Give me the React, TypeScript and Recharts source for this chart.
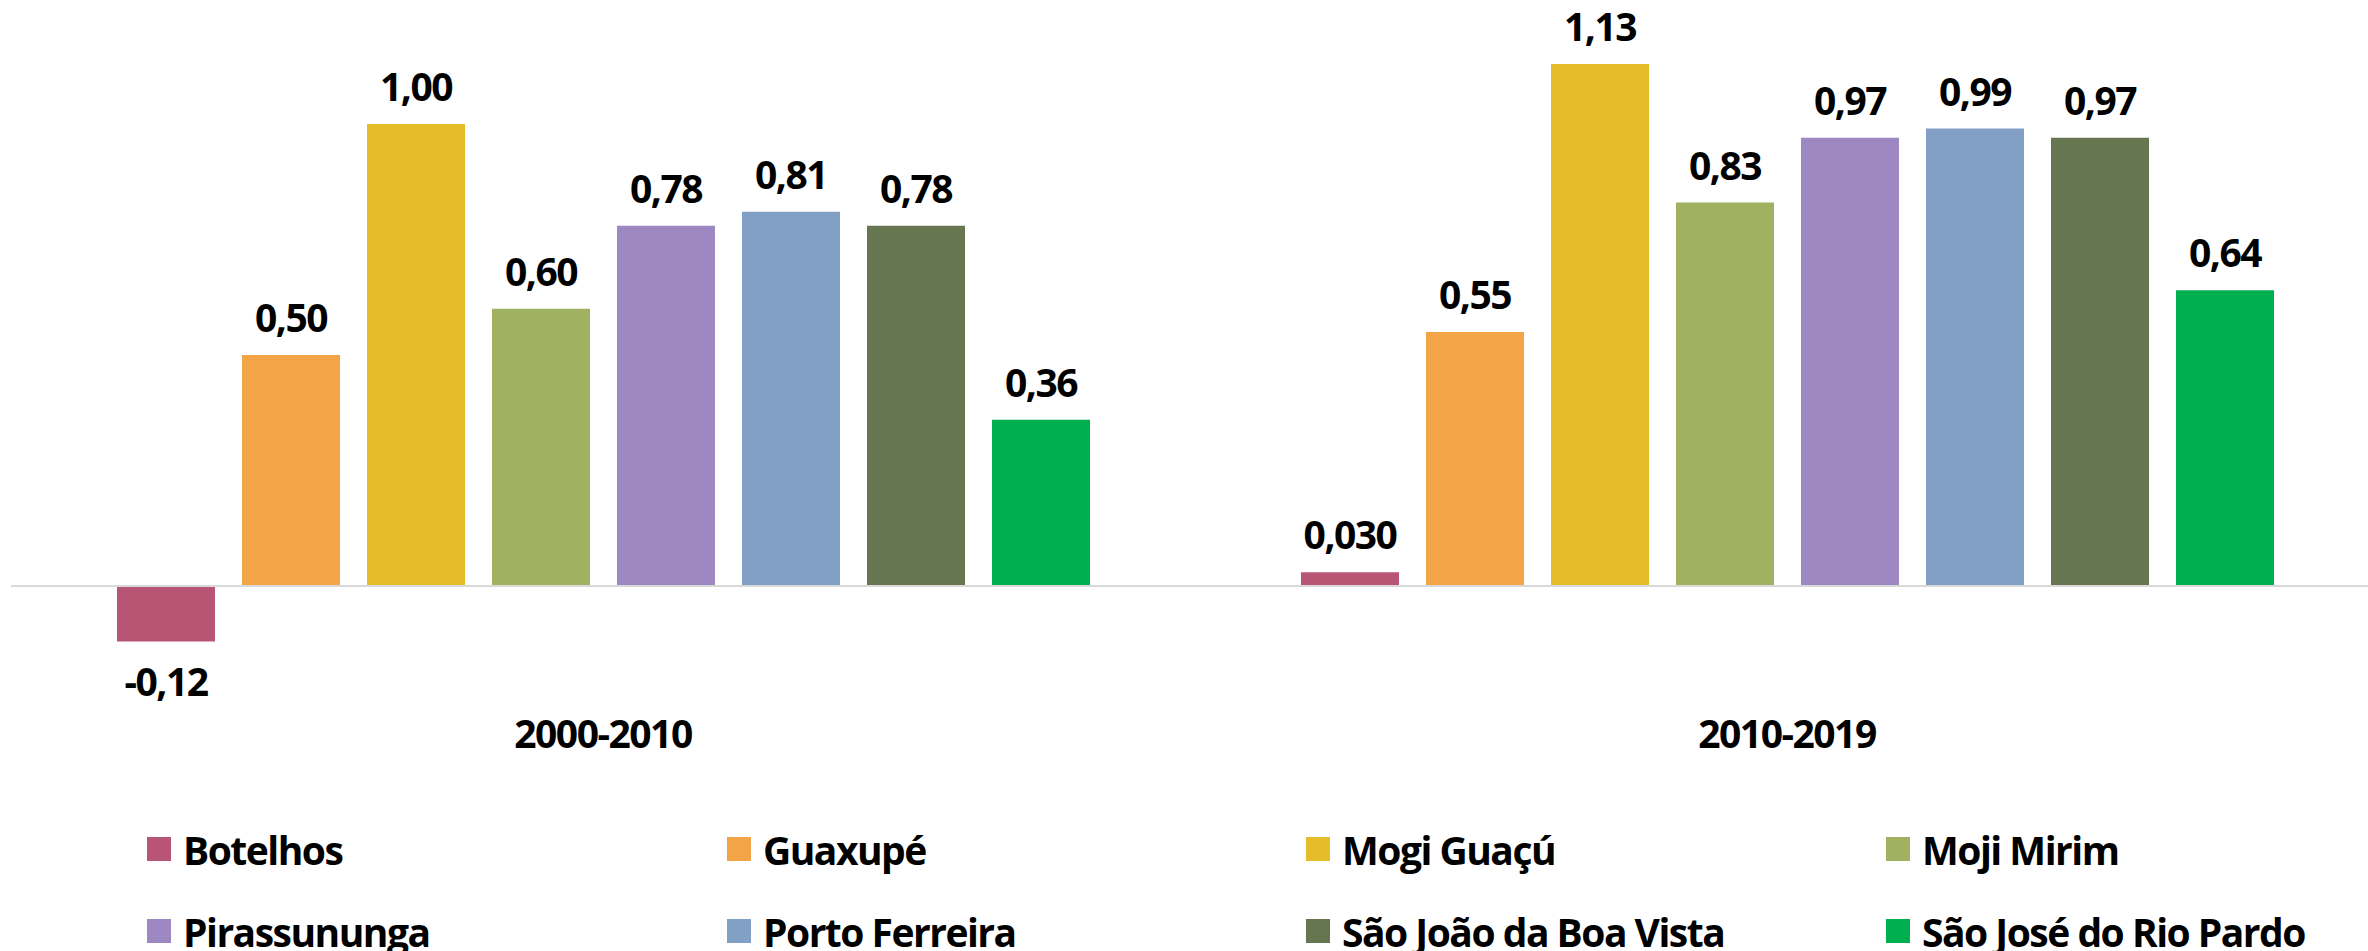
import React from 'react';
import { BarChart, Bar, XAxis, YAxis, ReferenceLine, LabelList } from 'recharts';

const periods = ['2000-2010', '2010-2019'];
const cities = [
  'Botelhos',
  'Guaxupé',
  'Mogi Guaçú',
  'Moji Mirim',
  'Pirassununga',
  'Porto Ferreira',
  'São João da Boa Vista',
  'São José do Rio Pardo',
];
const botelhos = [-0.12, 0.03];
const guaxupe = [0.5, 0.55];
const mogiGuacu = [1.0, 1.13];
const mojiMirim = [0.6, 0.83];
const pirassununga = [0.78, 0.97];
const portoFerreira = [0.81, 0.99];
const saoJoao = [0.78, 0.97];
const saoJose = [0.36, 0.64];
const seriesValues = [botelhos, guaxupe, mogiGuacu, mojiMirim, pirassununga, portoFerreira, saoJoao, saoJose];
const colors = ['#B85575', '#F2A446', '#E5BC2A', '#A0B262', '#9E88C1', '#82A0C5', '#667650', '#00B050'];

const data = periods.map((p, i) => {
  const row: Record<string, any> = { period: p };
  cities.forEach((c, j) => {
    row[c] = seriesValues[j][i];
  });
  return row;
});

const FONT = "'Open Sans', 'Noto Sans', sans-serif";
const FS = 39;
const LS = -1.5;

const fmt = (v: number) => (Math.abs(v) < 0.1 ? v.toFixed(3) : v.toFixed(2)).replace('.', ',');

const ValueLabel = (props: any) => {
  const { x, y, width, height, value } = props;
  const top = Math.min(y, y + height);
  const bottom = Math.max(y, y + height);
  const ty = value >= 0 ? top - 23 : bottom + 55;
  return (
    <text
      x={x + width / 2}
      y={ty}
      textAnchor="middle"
      fontFamily={FONT}
      fontSize={FS}
      fontWeight={700}
      letterSpacing={LS}
      fill="#000"
    >
      {fmt(value)}
    </text>
  );
};

const CatTick = (props: any) => {
  const { x, y, payload } = props;
  return (
    <text
      x={x}
      y={y + 70}
      textAnchor="middle"
      fontFamily={FONT}
      fontSize={FS}
      fontWeight={700}
      letterSpacing={LS}
      fill="#000"
    >
      {payload.value}
    </text>
  );
};

const legendCols = [147, 727, 1306, 1886];
const legendRows = [849, 931];

export default function App() {
  return (
    <div style={{ position: 'absolute', left: 0, top: 0, width: 2368, height: 951, overflow: 'hidden', background: '#fff' }}>
      <BarChart
        width={2380}
        height={951}
        data={data}
        margin={{ top: 31.6, right: 1, left: 11, bottom: 192.6 }}
        barSize={98}
        barGap={27}
      >
        <XAxis
          dataKey="period"
          axisLine={false}
          tickLine={false}
          tickSize={0}
          tickMargin={0}
          height={80}
          tick={<CatTick />}
          interval={0}
        />
        <YAxis hide domain={[-0.2, 1.2]} type="number" allowDataOverflow />
        <ReferenceLine y={0} stroke="#D9D9D9" strokeWidth={2} />
        {cities.map((c, j) => (
          <Bar key={c} dataKey={c} fill={colors[j]} isAnimationActive={false}>
            <LabelList dataKey={c} content={<ValueLabel />} />
          </Bar>
        ))}
      </BarChart>
      {cities.map((c, j) => {
        const col = legendCols[j % 4];
        const row = legendRows[Math.floor(j / 4)];
        return (
          <div
            key={c}
            style={{
              position: 'absolute',
              left: col,
              top: row - 30,
              height: 60,
              display: 'flex',
              alignItems: 'center',
              whiteSpace: 'nowrap',
            }}
          >
            <div style={{ width: 24, height: 24, background: colors[j], marginRight: 12 }} />
            <span
              style={{
                fontFamily: FONT,
                fontSize: FS,
                fontWeight: 700,
                letterSpacing: LS,
                color: '#000',
                lineHeight: 1,
              }}
            >
              {c}
            </span>
          </div>
        );
      })}
    </div>
  );
}
